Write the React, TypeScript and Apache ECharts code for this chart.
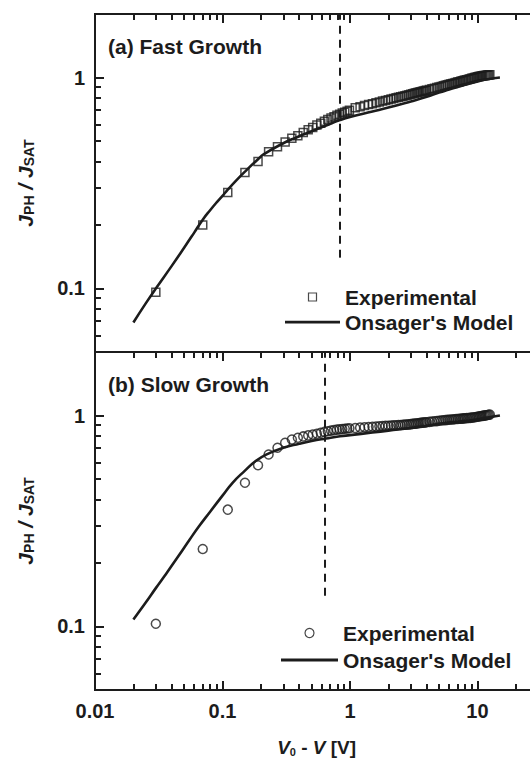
import React, { useEffect, useRef } from 'react';
import * as echarts from 'echarts';

const FONT = '"Liberation Sans", Arial, Helvetica, sans-serif';
const INK = '#1c1c1c';

// Applied bias V0 - V (V) of the measured points, shared by both films
const VOLTAGE = [
  0.03, 0.07, 0.11, 0.15, 0.19, 0.23, 0.27, 0.31, 0.35, 0.39, 0.43, 0.47, 0.51, 0.55, 0.59, 0.63, 0.67, 0.71, 0.75, 0.79,
  0.83, 0.87, 0.91, 0.95, 0.99,
  1.1, 1.2, 1.3, 1.4, 1.5, 1.6, 1.7, 1.8, 1.9, 2.0, 2.1, 2.2, 2.3, 2.4, 2.5, 2.6, 2.7, 2.8, 2.9, 3.0,
  3.1, 3.2, 3.3, 3.4, 3.5, 3.6, 3.7, 3.8, 3.9, 4.0,
  4.2, 4.4, 4.6, 4.8, 5.0, 5.2, 5.4, 5.6, 5.8, 6.0, 6.2, 6.4, 6.6, 6.8, 7.0, 7.2, 7.4, 7.6, 7.8, 8.0,
  8.25, 8.5, 8.75, 9.0, 9.25, 9.5, 9.75, 10.0, 10.25, 10.5, 10.75, 11.0, 11.25, 11.5, 11.75, 12.0, 12.25, 12.5,
];

// J_PH / J_SAT measured on the fast-growth film
const FAST_GROWTH = [
  0.096, 0.2, 0.285, 0.355, 0.4, 0.445, 0.47, 0.495, 0.515, 0.53, 0.548, 0.565, 0.58, 0.595, 0.607, 0.62, 0.632, 0.642,
  0.652, 0.662, 0.67, 0.678, 0.685, 0.692, 0.7,
  0.718, 0.727, 0.736, 0.744, 0.752, 0.759, 0.766, 0.773, 0.779, 0.785, 0.79, 0.796, 0.801, 0.806, 0.811, 0.816, 0.82,
  0.825, 0.829, 0.834, 0.838, 0.842, 0.846, 0.849, 0.853, 0.856, 0.86, 0.864, 0.867, 0.87,
  0.877, 0.884, 0.89, 0.896, 0.902, 0.907, 0.913, 0.918, 0.923, 0.929, 0.933, 0.938, 0.943, 0.947, 0.952, 0.956, 0.96,
  0.964, 0.968, 0.972,
  0.977, 0.981, 0.986, 0.991, 0.995, 0.999, 1.003, 1.007, 1.01, 1.013, 1.016, 1.019, 1.021, 1.023, 1.025, 1.027, 1.029,
  1.03,
];

// J_PH / J_SAT measured on the slow-growth film
const SLOW_GROWTH = [
  0.103, 0.233, 0.358, 0.48, 0.581, 0.653, 0.703, 0.742, 0.769, 0.784, 0.796, 0.805, 0.812, 0.82, 0.828, 0.836, 0.842,
  0.848, 0.853, 0.857, 0.86, 0.863, 0.866, 0.868, 0.87,
  0.873, 0.876, 0.879, 0.882, 0.884, 0.887, 0.889, 0.891, 0.893, 0.894, 0.896, 0.898, 0.899, 0.901, 0.902, 0.904, 0.905,
  0.907, 0.908, 0.91, 0.913, 0.915, 0.917, 0.919, 0.921, 0.923, 0.925, 0.926, 0.928, 0.929,
  0.933, 0.936, 0.939, 0.941, 0.944, 0.947, 0.949, 0.951, 0.953, 0.955, 0.957, 0.958, 0.96, 0.962, 0.963, 0.965, 0.966,
  0.967, 0.969, 0.97,
  0.972, 0.973, 0.975, 0.977, 0.978, 0.981, 0.984, 0.987, 0.989, 0.992, 0.994, 0.996, 0.999, 1.001, 1.003, 1.006, 1.008,
  1.01,
];

// Onsager dissociation model curves
const FAST_MODEL_V = [0.02, 0.025, 0.03, 0.04, 0.05, 0.06, 0.07, 0.08, 0.09, 0.1, 0.11, 0.13, 0.15, 0.19, 0.21, 0.3, 0.38, 0.5, 0.65, 0.835, 1, 1.5, 2, 3, 4, 5, 6, 7, 8, 9, 10, 12, 15];
const FAST_MODEL = [0.069, 0.085, 0.1, 0.128, 0.156, 0.184, 0.212, 0.235, 0.256, 0.275, 0.294, 0.328, 0.358, 0.41, 0.432, 0.488, 0.52, 0.556, 0.592, 0.628, 0.65, 0.69, 0.72, 0.77, 0.81, 0.848, 0.877, 0.902, 0.923, 0.942, 0.957, 0.982, 1.0];
const SLOW_MODEL_V = [0.02, 0.025, 0.03, 0.035, 0.045, 0.055, 0.065, 0.08, 0.1, 0.12, 0.15, 0.18, 0.22, 0.3, 0.4, 0.5, 0.65, 0.835, 1, 1.5, 2, 3, 4, 5, 7, 9, 12, 15];
const SLOW_MODEL = [0.108, 0.13, 0.152, 0.173, 0.215, 0.257, 0.297, 0.35, 0.417, 0.48, 0.548, 0.605, 0.653, 0.703, 0.735, 0.757, 0.778, 0.797, 0.807, 0.83, 0.848, 0.872, 0.895, 0.914, 0.935, 0.95, 0.978, 1.0];

// dashed markers
const FAST_THRESHOLD = 0.835;
const SLOW_THRESHOLD = 0.637;
const THRESHOLD_SPAN = [0.14, 2];

// axes
const X_RANGE = [0.01, 30];
const Y_RANGE = [0.05, 2];
const X_MAJOR = [0.1, 1, 10];
const X_MINOR = [0.02, 0.03, 0.04, 0.05, 0.06, 0.07, 0.08, 0.09, 0.2, 0.3, 0.4, 0.5, 0.6, 0.7, 0.8, 0.9, 2, 3, 4, 5, 6, 7, 8, 9, 20];
const Y_MAJOR = [0.1, 1];
const Y_MINOR = [0.06, 0.07, 0.08, 0.09, 0.2, 0.3, 0.4, 0.5, 0.6, 0.7, 0.8, 0.9];

const PANEL_TITLES = ['(a) Fast Growth', '(b) Slow Growth'];

const GRID_LEFT = 95;
const GRID_WIDTH = 443.3;
const GRID_HEIGHT = 338;
const GRID_TOPS = [14, 352];
const MAJOR_LEN = 9;
const MINOR_LEN = 6;

const SQUARE_ICON = 'path://M0,0H10V10H0Z';
const LINE_ICON = 'path://M0,0H60V3H0Z';

const decadeLabel = (v: number) => {
  const e = Math.log10(v);
  const r = Math.round(e);
  if (Math.abs(e - r) > 1e-6) return '';
  return r >= 0 ? String(Math.pow(10, r)) : Math.pow(10, r).toFixed(-r);
};

const yName = '{j|J}{s|PH}{j| / J}{s|SAT}';
const yNameStyle = {
  rich: {
    j: { fontSize: 21, fontWeight: 'bold', fontStyle: 'italic', fontFamily: FONT, color: INK, lineHeight: 21, verticalAlign: 'top' },
    s: { fontSize: 14, fontWeight: 'bold', fontFamily: FONT, color: INK, lineHeight: 14, padding: [13, 0, 0, 0], verticalAlign: 'bottom' },
  },
};

export default function App() {
  const ref = useRef<HTMLDivElement>(null);

  useEffect(() => {
    if (!ref.current) return;
    const chart = echarts.init(ref.current, null, { renderer: 'svg' });

    const panels = [
      { values: FAST_GROWTH, modelV: FAST_MODEL_V, model: FAST_MODEL, threshold: FAST_THRESHOLD, symbol: 'rect', size: 8 },
      { values: SLOW_GROWTH, modelV: SLOW_MODEL_V, model: SLOW_MODEL, threshold: SLOW_THRESHOLD, symbol: 'circle', size: 9 },
    ];

    const xAxis = GRID_TOPS.map((_t, i) => ({
      type: 'log',
      logBase: 10,
      gridIndex: i,
      min: X_RANGE[0],
      max: X_RANGE[1],
      axisLine: { show: false },
      axisTick: { show: false },
      splitLine: { show: false },
      axisLabel: {
        show: i === 1,
        formatter: decadeLabel,
        fontSize: 20,
        fontWeight: 'bold',
        fontFamily: FONT,
        color: INK,
        margin: 11,
      },
      name: i === 1 ? '{v|V}{s|0}{t| - }{v|V}{t| [V]}' : '',
      nameLocation: 'middle',
      nameGap: 48,
      nameTextStyle: {
        rich: {
          v: { fontSize: 19, fontWeight: 'bold', fontStyle: 'italic', fontFamily: FONT, color: INK, lineHeight: 19, verticalAlign: 'top' },
          t: { fontSize: 19, fontWeight: 'bold', fontFamily: FONT, color: INK, lineHeight: 19, verticalAlign: 'top' },
          s: { fontSize: 11, fontWeight: 'bold', fontFamily: FONT, color: INK, lineHeight: 11, padding: [12, 0, 0, 0], verticalAlign: 'bottom' },
        },
      },
    }));

    const yAxis = GRID_TOPS.map((_t, i) => ({
      type: 'log',
      logBase: 10,
      gridIndex: i,
      min: Y_RANGE[0],
      max: Y_RANGE[1],
      axisLine: { show: false },
      axisTick: { show: false },
      splitLine: { show: false },
      axisLabel: {
        formatter: decadeLabel,
        fontSize: 20,
        fontWeight: 'bold',
        fontFamily: FONT,
        color: INK,
        margin: 10,
      },
      name: yName,
      nameLocation: 'middle',
      nameRotate: 90,
      nameGap: 59,
      nameTextStyle: yNameStyle,
    }));

    const series: any[] = [];
    panels.forEach((p, i) => {
      series.push({
        name: 'Experimental',
        type: 'scatter',
        xAxisIndex: i,
        yAxisIndex: i,
        symbol: p.symbol,
        symbolSize: p.size,
        itemStyle: { color: 'rgba(0,0,0,0)', borderColor: INK, borderWidth: 1.5 },
        data: VOLTAGE.map((v, k) => [v, p.values[k]]),
      });
      series.push({
        name: "Onsager's Model",
        type: 'line',
        xAxisIndex: i,
        yAxisIndex: i,
        symbol: 'none',
        showSymbol: false,
        smooth: true,
        color: INK,
        lineStyle: { color: INK, width: 2.6 },
        data: p.modelV.map((v, k) => [v, p.model[k]]),
      });
      series.push({
        type: 'line',
        xAxisIndex: i,
        yAxisIndex: i,
        symbol: 'none',
        color: INK,
        lineStyle: { color: INK, width: 2, type: [8, 6] },
        data: THRESHOLD_SPAN.map((y) => [p.threshold, y]),
      });
    });

    const legendText = { fontSize: 21, fontWeight: 'bold', fontFamily: FONT, color: INK, lineHeight: 22 };
    const expItemStyle = { color: 'rgba(0,0,0,0)', borderColor: INK, borderWidth: 1.2 };
    const lineItemStyle = { color: INK, borderWidth: 0 };

    const baseOption: any = {
      animation: false,
      backgroundColor: '#fff',
      textStyle: { fontFamily: FONT },
      grid: GRID_TOPS.map((top) => ({
        left: GRID_LEFT,
        top,
        width: GRID_WIDTH,
        height: GRID_HEIGHT,
        outerBoundsMode: 'none',
        containLabel: false,
        show: true,
        borderColor: INK,
        borderWidth: 2,
      })),
      xAxis,
      yAxis,
      legend: [
        {
          orient: 'vertical',
          left: 285,
          top: 286,
          padding: 0,
          itemWidth: 55,
          itemHeight: 8,
          itemGap: 3,
          selectedMode: false,
          textStyle: legendText,
          data: [
            { name: 'Experimental', icon: SQUARE_ICON, itemStyle: expItemStyle },
            { name: "Onsager's Model", icon: LINE_ICON, itemStyle: lineItemStyle },
          ],
        },
        {
          orient: 'vertical',
          left: 281,
          top: 622,
          padding: 0,
          itemWidth: 57,
          itemHeight: 9,
          itemGap: 5,
          selectedMode: false,
          textStyle: legendText,
          data: [
            { name: 'Experimental', icon: 'circle', itemStyle: expItemStyle },
            { name: "Onsager's Model", icon: LINE_ICON, itemStyle: lineItemStyle },
          ],
        },
      ],
      series,
    };
    chart.setOption(baseOption);

    // Inward ticks as short segments: the inner end of each tick is found by
    // converting a pixel offset from the frame back into data space.
    const tickSeries: any[] = [];
    const captions: any[] = [];
    GRID_TOPS.forEach((_t, i) => {
      const finder = { gridIndex: i };
      const toPx = (pt: number[]) => chart.convertToPixel(finder, pt) as number[];
      const toData = (pt: number[]) => chart.convertFromPixel(finder, pt) as number[];
      const [xl, yb] = toPx([X_RANGE[0], Y_RANGE[0]]);
      const yt = toPx([X_RANGE[0], Y_RANGE[1]])[1];
      const segs: any[] = [];
      const xTicks: [number, number][] = [
        ...X_MAJOR.map((v) => [v, MAJOR_LEN] as [number, number]),
        ...X_MINOR.map((v) => [v, MINOR_LEN] as [number, number]),
      ];
      xTicks.forEach(([v, len]) => {
        const topInner = toData([xl, yt + len])[1];
        segs.push({ coords: [[v, Y_RANGE[1]], [v, topInner]] });
        if (i === 1) {
          const botInner = toData([xl, yb - len])[1];
          segs.push({ coords: [[v, Y_RANGE[0]], [v, botInner]] });
        }
      });
      const yTicks: [number, number][] = [
        ...Y_MAJOR.map((v) => [v, MAJOR_LEN] as [number, number]),
        ...Y_MINOR.map((v) => [v, MINOR_LEN] as [number, number]),
      ];
      yTicks.forEach(([v, len]) => {
        const inner = toData([xl + len, yb])[0];
        segs.push({ coords: [[X_RANGE[0], v], [inner, v]] });
      });
      tickSeries.push({
        type: 'lines',
        coordinateSystem: 'cartesian2d',
        xAxisIndex: i,
        yAxisIndex: i,
        polyline: false,
        silent: true,
        lineStyle: { color: INK, width: 2, opacity: 1 },
        data: segs,
      });
      captions.push({
        type: 'text',
        x: xl + 13,
        y: yt + 32,
        style: { text: PANEL_TITLES[i], fontSize: 21, fontWeight: 'bold', fontFamily: FONT, fill: INK, verticalAlign: 'middle' },
      });
    });
    chart.setOption({ series: [...series, ...tickSeries], graphic: captions });

    return () => chart.dispose();
  }, []);

  return (
    <div
      ref={ref}
      style={{ position: 'absolute', left: 0, top: 0, width: 530, height: 764, background: '#fff' }}
    />
  );
}
